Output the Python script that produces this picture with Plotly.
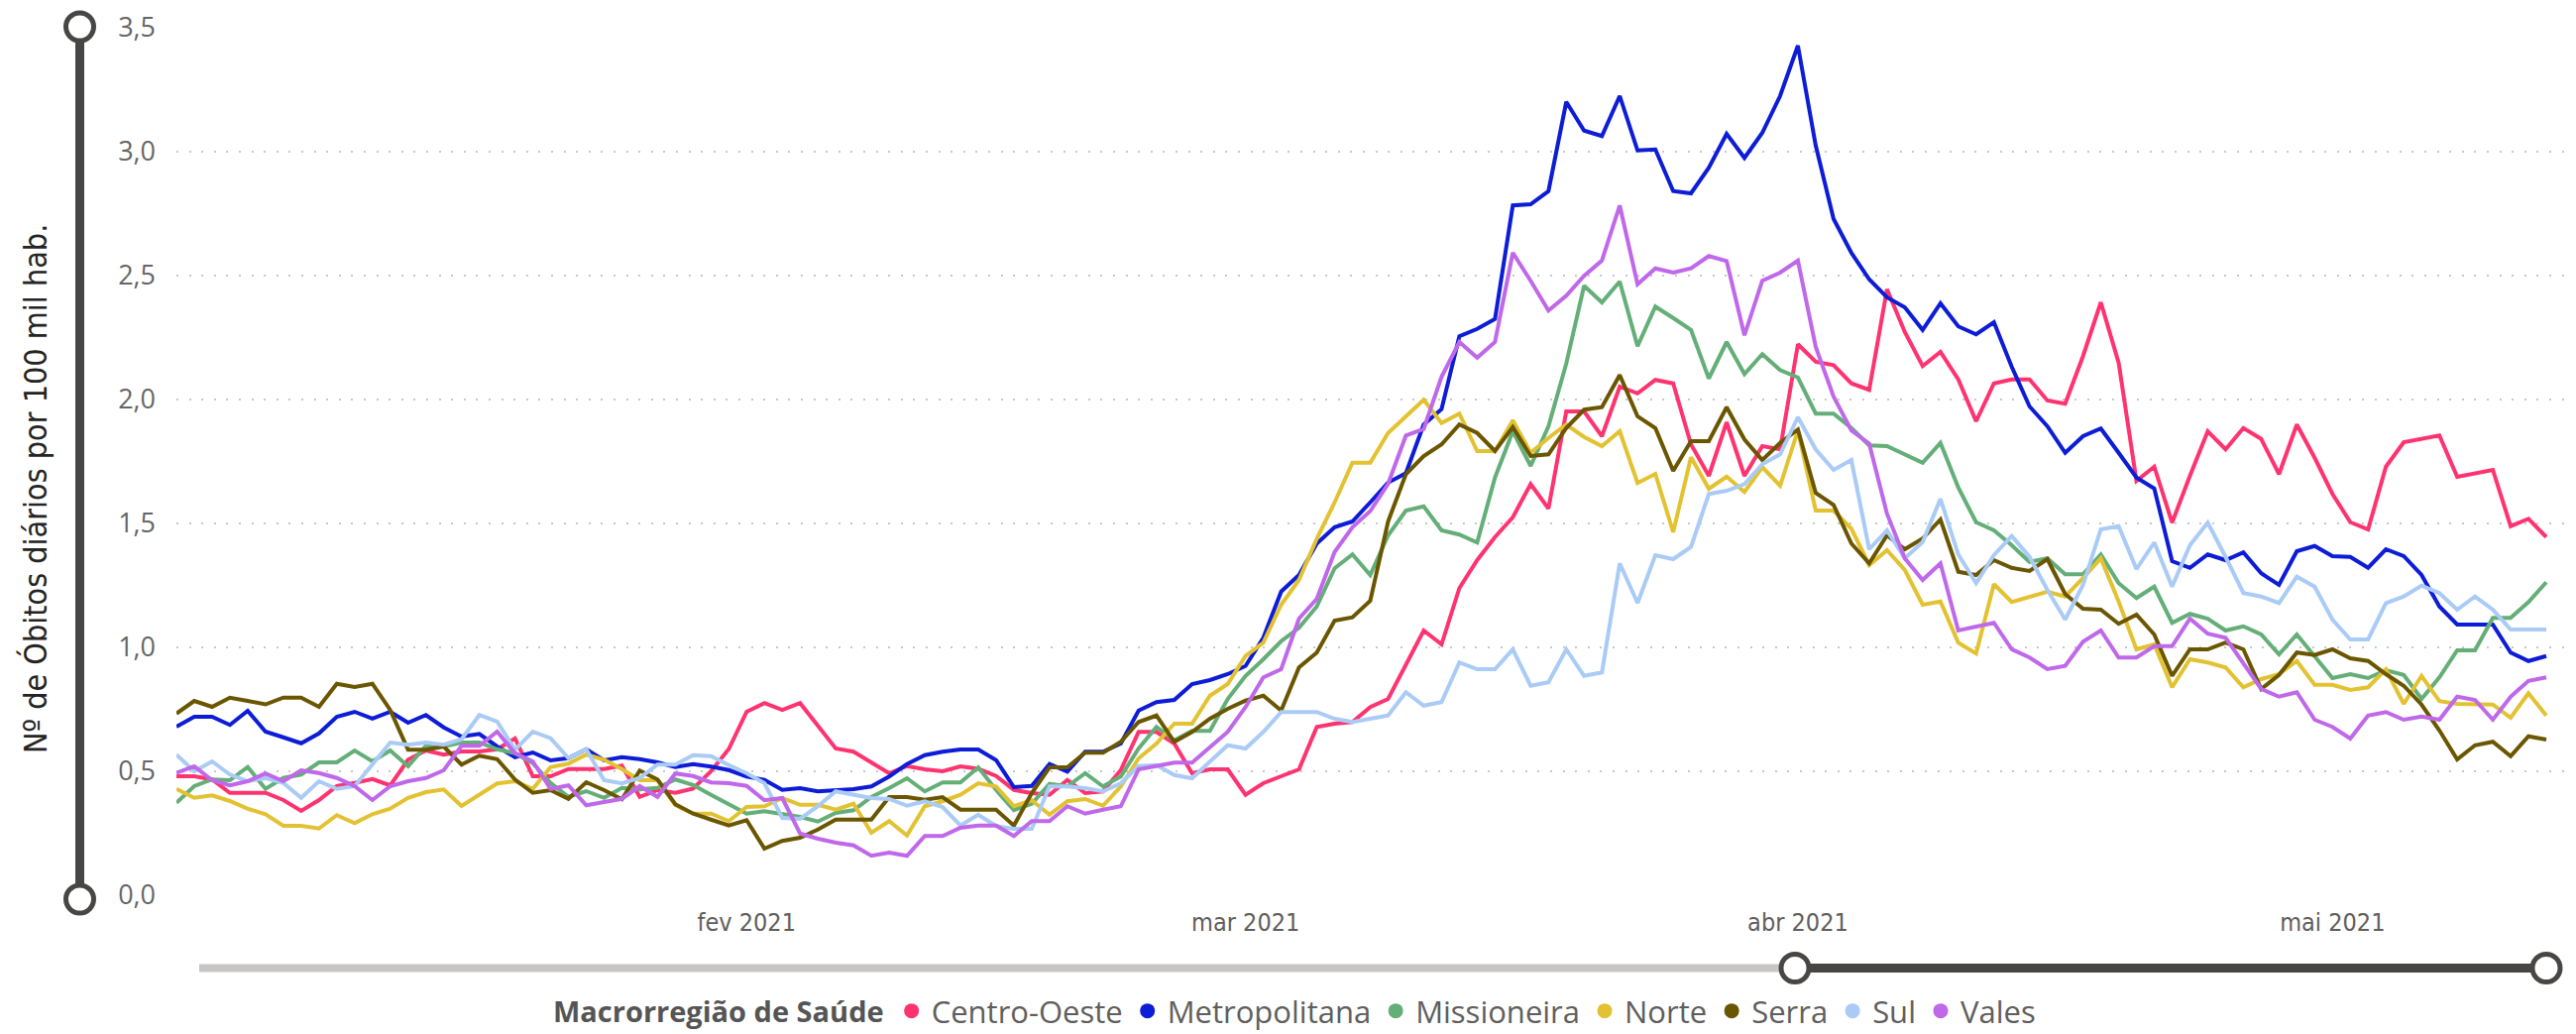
import pandas as pd
import plotly.graph_objects as go

# ---------------- data ----------------
start_date = "2020-12-31"
n_days = 134
dates = pd.date_range(start_date, periods=n_days, freq="D")

centro_oeste = [
    0.48, 0.48, 0.467, 0.413, 0.413, 0.413, 0.384, 0.34, 0.384, 0.44, 0.453, 0.469, 0.443, 0.547, 0.584, 0.567,
    0.58, 0.58, 0.589, 0.633, 0.48, 0.48, 0.509, 0.509, 0.509, 0.523, 0.397, 0.424, 0.413,
    0.43, 0.50, 0.59, 0.74, 0.775, 0.748, 0.775, 0.685, 0.592, 0.579, 0.535, 0.492, 0.521, 0.508, 0.50,
    0.52, 0.51, 0.481, 0.425, 0.412, 0.405, 0.465,
    0.412, 0.419, 0.505, 0.659, 0.659, 0.612, 0.492, 0.508, 0.508, 0.405, 0.452, 0.479, 0.508, 0.679, 0.692,
    0.699, 0.759, 0.792, 0.932, 1.068, 1.012, 1.239, 1.352, 1.445, 1.525, 1.659, 1.56,
    1.952, 1.952, 1.852, 2.052, 2.025, 2.079, 2.065, 1.819, 1.692, 1.908, 1.692, 1.812, 1.799,
    2.223, 2.152, 2.139, 2.065, 2.039, 2.445, 2.272, 2.135, 2.192, 2.081, 1.912, 2.065, 2.081, 2.081, 1.996,
    1.983, 2.175, 2.392, 2.148,
    1.672, 1.729, 1.503, 1.692, 1.872, 1.799, 1.885, 1.841, 1.699, 1.899, 1.765, 1.619, 1.505, 1.476, 1.729,
    1.828, 1.841, 1.855, 1.688, 1.703, 1.716, 1.489, 1.519, 1.445,
]
metropolitana = [
    0.68, 0.72, 0.72, 0.687, 0.744, 0.66, 0.637, 0.613, 0.653, 0.72, 0.74, 0.713, 0.74, 0.696, 0.727, 0.677,
    0.64, 0.651, 0.6, 0.557, 0.576, 0.544, 0.553, 0.589, 0.544, 0.557, 0.549, 0.536, 0.517,
    0.529, 0.519, 0.505, 0.479, 0.465, 0.425, 0.432, 0.419, 0.423, 0.428, 0.439, 0.479, 0.529, 0.565, 0.579,
    0.588, 0.588, 0.545, 0.436, 0.441, 0.529, 0.499,
    0.579, 0.579, 0.612, 0.745, 0.779, 0.788, 0.852, 0.868, 0.892, 0.925, 1.039, 1.225, 1.292, 1.419, 1.485,
    1.508,
    1.585, 1.665, 1.703, 1.899, 1.961, 2.255, 2.285, 2.325, 2.783, 2.788, 2.841, 3.201, 3.085, 3.063, 3.225,
    3.005, 3.009, 2.841, 2.832, 2.935, 3.072, 2.975, 3.076, 3.225, 3.428,
    3.025, 2.729, 2.592, 2.485, 2.412, 2.372, 2.281, 2.388, 2.295, 2.263, 2.312, 2.132, 1.972, 1.892,
    1.785, 1.852, 1.883, 1.785, 1.685, 1.641, 1.348, 1.321, 1.375, 1.352, 1.383, 1.299, 1.252, 1.388, 1.409,
    1.368, 1.365, 1.321, 1.396, 1.368, 1.292, 1.165, 1.092, 1.092, 1.092, 0.979, 0.945, 0.965,
]
missioneira = [
    0.373, 0.44, 0.467, 0.464, 0.517, 0.429, 0.473, 0.487, 0.536, 0.536, 0.584, 0.54, 0.584, 0.52, 0.603, 0.6,
    0.616, 0.616, 0.589, 0.573, 0.533, 0.453, 0.397, 0.42, 0.393, 0.433, 0.427, 0.433, 0.467,
    0.445, 0.405, 0.369, 0.329, 0.339, 0.329, 0.316, 0.297, 0.332, 0.343, 0.396, 0.432, 0.472, 0.419, 0.455,
    0.455, 0.516, 0.425, 0.343, 0.369, 0.449, 0.439,
    0.492, 0.439, 0.479, 0.592, 0.679, 0.625, 0.663, 0.663, 0.792, 0.885, 0.952, 1.025, 1.079, 1.165, 1.319,
    1.375, 1.292, 1.452, 1.552, 1.569, 1.472, 1.455, 1.423,
    1.685, 1.872, 1.732, 1.892, 2.145, 2.459, 2.392, 2.476, 2.215, 2.375, 2.329, 2.281, 2.085, 2.232, 2.103,
    2.183, 2.119, 2.089,
    1.943, 1.943, 1.885, 1.815, 1.812, 1.779, 1.745, 1.825, 1.645, 1.505, 1.472, 1.412, 1.345, 1.359,
    1.295, 1.295, 1.375, 1.259, 1.199, 1.245, 1.099, 1.135, 1.116, 1.068, 1.085, 1.052, 0.972, 1.052, 0.965,
    0.876, 0.892, 0.876, 0.908, 0.889, 0.792, 0.879, 0.988, 0.988, 1.119, 1.119, 1.183, 1.263,
]
norte = [
    0.429, 0.393, 0.403, 0.38, 0.349, 0.327, 0.28, 0.28, 0.269, 0.323, 0.291, 0.327, 0.349, 0.393, 0.416,
    0.427, 0.36, 0.407, 0.451, 0.46, 0.429, 0.517, 0.531, 0.567, 0.547, 0.509, 0.464, 0.464, 0.363,
    0.329, 0.329, 0.299, 0.356, 0.359, 0.392, 0.365, 0.365, 0.345, 0.369, 0.252, 0.299, 0.241, 0.359, 0.379,
    0.405, 0.452, 0.439, 0.359, 0.383, 0.325, 0.379,
    0.388, 0.361, 0.439, 0.552, 0.612, 0.692, 0.692, 0.805, 0.852, 0.965, 1.019, 1.172, 1.272, 1.439, 1.585,
    1.745, 1.745, 1.865, 1.932, 1.999, 1.905, 1.943, 1.792, 1.792, 1.916, 1.785, 1.845, 1.899, 1.849, 1.812,
    1.872, 1.663, 1.70, 1.465, 1.767, 1.64, 1.689, 1.627, 1.727, 1.652, 1.875,
    1.552, 1.552, 1.479, 1.332, 1.392, 1.312, 1.172, 1.185, 1.019, 0.975, 1.255, 1.183, 1.205, 1.225, 1.205,
    1.279, 1.359, 1.185, 0.992, 1.012, 0.839, 0.952, 0.939, 0.919, 0.839, 0.872, 0.892, 0.945, 0.849, 0.849,
    0.828, 0.839, 0.912, 0.772, 0.885, 0.783, 0.772, 0.769, 0.769, 0.716, 0.815, 0.725,
]
serra = [
    0.733, 0.784, 0.76, 0.797, 0.784, 0.77, 0.797, 0.797, 0.76, 0.853, 0.84, 0.853, 0.747, 0.587, 0.587, 0.6,
    0.527, 0.563, 0.549, 0.467, 0.413, 0.424, 0.389, 0.456, 0.424, 0.387, 0.503, 0.467, 0.367,
    0.329, 0.305, 0.281, 0.303, 0.188, 0.219, 0.232, 0.265, 0.305, 0.305, 0.305, 0.396, 0.396, 0.385, 0.396,
    0.345, 0.345, 0.345, 0.281, 0.412, 0.516, 0.516,
    0.575, 0.575, 0.619, 0.699, 0.725, 0.619, 0.659, 0.712, 0.752, 0.785, 0.805, 0.745, 0.919, 0.979, 1.108,
    1.121, 1.188, 1.508,
    1.699, 1.772, 1.819, 1.899, 1.865, 1.792, 1.889, 1.772, 1.779, 1.885, 1.959, 1.969, 2.099, 1.932, 1.885,
    1.712, 1.832, 1.832, 1.969, 1.839, 1.756, 1.825, 1.879,
    1.623, 1.575, 1.419, 1.339, 1.452, 1.396, 1.439, 1.516, 1.305, 1.292, 1.352, 1.321, 1.308, 1.356,
    1.215, 1.156, 1.152, 1.095, 1.132, 1.052, 0.885, 0.992, 0.992, 1.019, 0.992, 0.832, 0.889, 0.979, 0.969,
    0.992, 0.956, 0.945, 0.892, 0.845, 0.769, 0.665, 0.548, 0.605, 0.619, 0.561, 0.641, 0.628,
]
sul = [
    0.567, 0.5, 0.54, 0.487, 0.46, 0.473, 0.453, 0.393, 0.46, 0.429, 0.44, 0.531, 0.616, 0.607, 0.616, 0.607,
    0.629, 0.727, 0.7, 0.587, 0.66, 0.633, 0.553, 0.589, 0.464, 0.451, 0.473, 0.527, 0.527,
    0.565, 0.561, 0.525, 0.492, 0.452, 0.312, 0.308, 0.359, 0.419, 0.405, 0.392, 0.388, 0.361, 0.379, 0.356,
    0.281, 0.325, 0.279, 0.268, 0.268, 0.439, 0.439,
    0.432, 0.419, 0.452, 0.521, 0.525, 0.485, 0.472, 0.539, 0.605, 0.592, 0.659, 0.739, 0.739, 0.739, 0.712,
    0.699, 0.712, 0.725, 0.819, 0.765, 0.779, 0.939, 0.912, 0.912, 0.992, 0.845, 0.859, 0.992, 0.885, 0.899,
    1.339, 1.179, 1.372, 1.356, 1.405, 1.619, 1.632, 1.659, 1.739, 1.779, 1.929,
    1.799, 1.716, 1.756, 1.396, 1.472, 1.359, 1.425, 1.599, 1.375, 1.259, 1.372, 1.449, 1.365, 1.232, 1.112,
    1.252, 1.476, 1.489, 1.316, 1.423, 1.245, 1.412, 1.503, 1.365, 1.219, 1.205, 1.179, 1.285, 1.245, 1.112,
    1.032, 1.032, 1.179, 1.205, 1.249, 1.219, 1.152, 1.205, 1.152, 1.072, 1.072, 1.072,
]
vales = [
    0.493, 0.52, 0.464, 0.443, 0.46, 0.491, 0.46, 0.504, 0.493, 0.473, 0.44, 0.384, 0.44, 0.46, 0.473, 0.504,
    0.603, 0.603, 0.66, 0.573, 0.54, 0.429, 0.443, 0.363, 0.376, 0.389, 0.44, 0.397, 0.491,
    0.481, 0.455, 0.452, 0.441, 0.383, 0.392, 0.249, 0.228, 0.212, 0.201, 0.159, 0.172, 0.159, 0.239, 0.239,
    0.272, 0.281, 0.281, 0.239, 0.299, 0.299, 0.359,
    0.329, 0.345, 0.359, 0.508, 0.521, 0.535, 0.535, 0.599, 0.659, 0.759, 0.879, 0.912, 1.116, 1.196, 1.385,
    1.485, 1.55, 1.66, 1.855, 1.881, 2.092,
    2.232, 2.169, 2.232, 2.592, 2.479, 2.359, 2.419, 2.499, 2.561, 2.783, 2.465, 2.529, 2.512, 2.529, 2.579,
    2.559, 2.259, 2.479, 2.512, 2.561,
    2.212, 2.012, 1.875, 1.822, 1.539, 1.359, 1.272, 1.339, 1.068, 1.085, 1.099, 0.992, 0.959, 0.912,
    0.925, 1.023, 1.068, 0.959, 0.959, 1.005, 1.005, 1.116, 1.055, 1.039, 0.935, 0.832, 0.801, 0.819, 0.708,
    0.679, 0.632, 0.725, 0.739, 0.708, 0.721, 0.708, 0.801, 0.788, 0.708, 0.801, 0.865, 0.879,
]

series_names = ["Centro-Oeste", "Metropolitana", "Missioneira", "Norte", "Serra", "Sul", "Vales"]
series_values = [centro_oeste, metropolitana, missioneira, norte, serra, sul, vales]
series_colors = ["#FF3370", "#0D1CD6", "#64AE78", "#E3C232", "#6B5600", "#A9CBF6", "#BF68EA"]

x_tick_dates = ["2021-02-01", "2021-03-01", "2021-04-01", "2021-05-01"]
x_tick_labels = ["fev 2021", "mar 2021", "abr 2021", "mai 2021"]
y_tick_values = [0.0, 0.5, 1.0, 1.5, 2.0, 2.5, 3.0, 3.5]

y_title = "Nº de Óbitos diários por 100 mil hab."
legend_title = "Macrorregião de Saúde"

# ---------------- layout geometry (screen pixels of the 2599x1043 page) ----------------
PAGE_W, PAGE_H = 2599, 1043
OFF = 8                      # default body margin of the html page
W, H = PAGE_W - OFF, PAGE_H - OFF
L, R, T, B = 178, 2587, 28, 903   # plot area on screen


def px(x):
    return (x - L) / (R - L)


def py(y):
    return (B - y) / (B - T)


FONT = "Open Sans, Noto Sans, DejaVu Sans, sans-serif"
NARROW = "Liberation Sans Narrow, Arial Narrow, DejaVu Sans Condensed, Open Sans, sans-serif"
DARK = "#484644"

fig = go.Figure()

for name, vals, color in zip(series_names, series_values, series_colors):
    fig.add_trace(go.Scatter(
        x=dates, y=vals, mode="lines", name=name,
        line=dict(color=color, width=4), showlegend=False,
    ))

for name, color in zip(series_names, series_colors):
    fig.add_trace(go.Scatter(
        x=[None], y=[None], mode="markers", name=name,
        marker=dict(color=color, size=15, symbol="circle"), showlegend=True,
    ))

shapes = []
# vertical (y-axis) zoom slider
shapes.append(dict(type="line", xref="paper", yref="paper", x0=px(80.5), x1=px(80.5),
                   y0=py(27), y1=py(907), line=dict(color=DARK, width=9), layer="above"))
# horizontal (x-axis) zoom slider
shapes.append(dict(type="line", xref="paper", yref="paper", x0=px(201), x1=px(1811),
                   y0=py(976.5), y1=py(976.5), line=dict(color="#C8C6C4", width=8), layer="above"))
shapes.append(dict(type="line", xref="paper", yref="paper", x0=px(1811), x1=px(2569),
                   y0=py(976.5), y1=py(976.5), line=dict(color=DARK, width=9), layer="above"))
for cx, cy in [(80.5, 27), (80.5, 907), (1811, 976.5), (2569, 976.5)]:
    shapes.append(dict(type="circle", xref="paper", yref="paper",
                       xsizemode="pixel", ysizemode="pixel",
                       xanchor=px(cx), yanchor=py(cy),
                       x0=-14, x1=14, y0=-14, y1=14,
                       fillcolor="white", line=dict(color=DARK, width=5), layer="above"))

fig.update_layout(
    width=W, height=H,
    margin=dict(l=L - OFF, r=PAGE_W - R, t=T - OFF, b=PAGE_H - B, pad=0, autoexpand=False),
    paper_bgcolor="white", plot_bgcolor="white",
    separators=",.",
    font=dict(family=FONT, color="#666666"),
    showlegend=True,
    legend=dict(
        orientation="h",
        xref="container", yref="container",
        x=(556 - OFF) / W, xanchor="left", y=1 - (1020 - OFF) / H, yanchor="middle",
        title=dict(text="<b>" + legend_title + "</b>", font=dict(family=FONT, size=29, color="#555555")),
        font=dict(family=FONT, size=31, color="#605E5C"),
        itemwidth=30, itemsizing="trace", bgcolor="rgba(0,0,0,0)",
    ),
    xaxis=dict(
        type="date",
        range=[dates[0], dates[0] + pd.Timedelta(days=n_days)],
        tickvals=x_tick_dates, ticktext=x_tick_labels,
        showgrid=False, zeroline=False, showline=False, ticks="",
        tickfont=dict(family=NARROW, size=25, color="#605E5C"),
        ticklabelstandoff=10,
        automargin=False,
        fixedrange=True,
    ),
    yaxis=dict(
        range=[0, 3.5],
        tickvals=y_tick_values, tickformat=".1f",
        showgrid=True, gridcolor="#C8C8C8", gridwidth=2, griddash="2px,10.6px",
        zeroline=False, showline=False, ticks="",
        tickfont=dict(family=FONT, size=27, color="#666666"),
        ticklabelstandoff=20,
        ticklabeloverflow="allow",
        automargin=False,
        fixedrange=True,
    ),
    shapes=shapes,
    annotations=[dict(
        text=y_title, xref="paper", yref="paper", x=px(36), y=py(493),
        textangle=-90, showarrow=False, xanchor="center", yanchor="middle",
        font=dict(family="DejaVu Sans Condensed, Liberation Sans, sans-serif", size=32, color="#252423"),
    )],
)

fig.write_html("out.html")
